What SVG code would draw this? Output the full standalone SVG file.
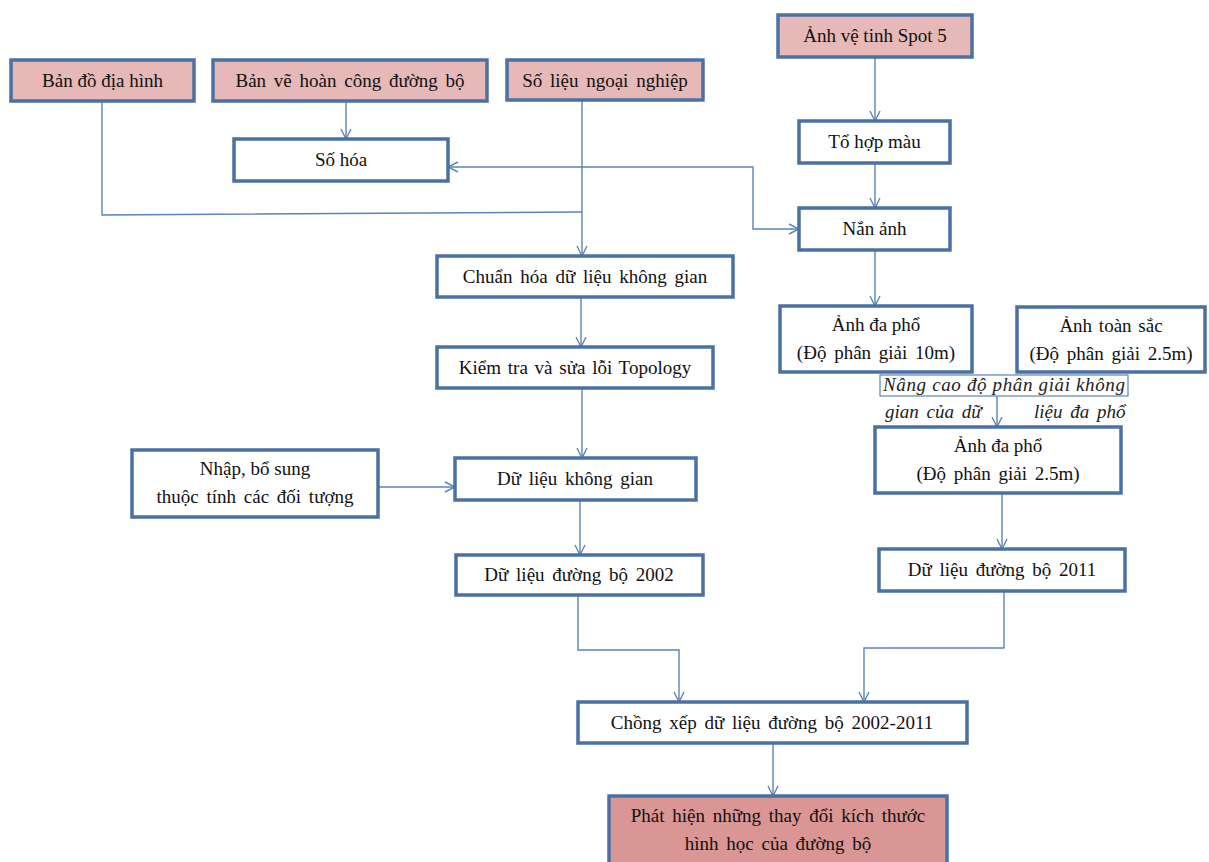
<svg xmlns="http://www.w3.org/2000/svg" width="1209" height="862" viewBox="0 0 1209 862">
<style>
.box{fill:#ffffff;stroke:#4a70a4;stroke-width:3.5}
.in{fill:#e6b9b8}
.out{fill:#d99694}
text{font-family:'Liberation Serif','Times New Roman','DejaVu Serif',serif}
.t{font-size:19px;fill:#111;text-anchor:middle}
.it{font-size:19px;font-style:italic;fill:#222}
.c{fill:none;stroke:#5a84ba;stroke-width:1.4}
</style>
<defs>
<marker id="ah" viewBox="0 0 12 12" refX="11" refY="6" markerWidth="12" markerHeight="12" markerUnits="userSpaceOnUse" orient="auto-start-reverse">
<path d="M1,1 L11,6 L1,11" fill="none" stroke="#5a84ba" stroke-width="1.4"/>
</marker>
</defs>
<rect width="1209" height="862" fill="#ffffff"/>
<g id="connectors">
<path class="c" d="M346,101 V139" marker-end="url(#ah)"/>
<path class="c" d="M102,101 V215 L582,212"/>
<path class="c" d="M582,100 V256" marker-end="url(#ah)"/>
<path class="c" d="M448,167 H753 V229 H799" marker-start="url(#ah)" marker-end="url(#ah)"/>
<path class="c" d="M875,57 V121" marker-end="url(#ah)"/>
<path class="c" d="M875,163 V208" marker-end="url(#ah)"/>
<path class="c" d="M875,250 V306" marker-end="url(#ah)"/>
<path class="c" d="M581,297 V347" marker-end="url(#ah)"/>
<path class="c" d="M582,388 V458" marker-end="url(#ah)"/>
<path class="c" d="M378,487 H455" marker-end="url(#ah)"/>
<path class="c" d="M580,500 V555" marker-end="url(#ah)"/>
<path class="c" d="M997,396 V427" marker-end="url(#ah)"/>
<path class="c" d="M1002,493 V549" marker-end="url(#ah)"/>
<path class="c" d="M578,595 V650 H679 V702" marker-end="url(#ah)"/>
<path class="c" d="M1004,591 V648 H864 V702" marker-end="url(#ah)"/>
<path class="c" d="M773,743 V796" marker-end="url(#ah)"/>
</g>
<g id="n-bando">
<rect class="box in" x="11" y="60" width="183" height="41"/>
<text class="t" x="102.5" y="87">Bản đồ địa hình</text>
</g>
<g id="n-banve">
<rect class="box in" x="213" y="60" width="274" height="41"/>
<text class="t" x="350" y="87" word-spacing="3">Bản vẽ hoàn công đường bộ</text>
</g>
<g id="n-solieu">
<rect class="box in" x="507" y="60" width="196" height="40"/>
<text class="t" x="605" y="87" word-spacing="3">Số liệu ngoại nghiệp</text>
</g>
<g id="n-spot">
<rect class="box in" x="778" y="15" width="194" height="42"/>
<text class="t" x="875" y="42">Ảnh vệ tinh Spot 5</text>
</g>
<g id="n-sohoa">
<rect class="box" x="234" y="139" width="214" height="42"/>
<text class="t" x="341" y="166">Số hóa</text>
</g>
<g id="n-tohop">
<rect class="box" x="799" y="121" width="151" height="42"/>
<text class="t" x="874.5" y="148">Tổ hợp màu</text>
</g>
<g id="n-nananh">
<rect class="box" x="799" y="208" width="151" height="42"/>
<text class="t" x="874.5" y="235">Nắn ảnh</text>
</g>
<g id="n-chuanhoa">
<rect class="box" x="437" y="256" width="296" height="41"/>
<text class="t" x="585" y="283" word-spacing="3">Chuẩn hóa dữ liệu không gian</text>
</g>
<g id="n-kiemtra">
<rect class="box" x="437" y="347" width="276" height="41"/>
<text class="t" x="575" y="374" word-spacing="2">Kiểm tra và sửa lỗi Topology</text>
</g>
<g id="n-daphopho10">
<rect class="box" x="780" y="306" width="192" height="66"/>
<text class="t" x="876" y="331">Ảnh đa phổ</text>
<text class="t" x="876" y="359" word-spacing="3">(Độ phân giải 10m)</text>
</g>
<g id="n-toansac">
<rect class="box" x="1017" y="307" width="188" height="65"/>
<text class="t" x="1111" y="332" word-spacing="2">Ảnh toàn sắc</text>
<text class="t" x="1111" y="360" word-spacing="3">(Độ phân giải 2.5m)</text>
</g>
<g id="n-label">
<rect x="880" y="375" width="248" height="21" fill="#ffffff" stroke="#5a84ba" stroke-width="1.2"/>
<text class="it" x="883" y="391" textLength="242" lengthAdjust="spacing">Nâng cao độ phân giải không</text>
<text class="it" x="885" y="418" word-spacing="3">gian của dữ</text>
<text class="it" x="1034" y="418" word-spacing="3">liệu đa phổ</text>
</g>
<g id="n-daphopho25">
<rect class="box" x="875" y="427" width="246" height="66"/>
<text class="t" x="998" y="452">Ảnh đa phổ</text>
<text class="t" x="998" y="480" word-spacing="3">(Độ phân giải 2.5m)</text>
</g>
<g id="n-nhap">
<rect class="box" x="132" y="450" width="246" height="67"/>
<text class="t" x="255" y="475">Nhập, bổ sung</text>
<text class="t" x="255" y="503" word-spacing="3">thuộc tính các đối tượng</text>
</g>
<g id="n-dlkg">
<rect class="box" x="455" y="458" width="241" height="42"/>
<text class="t" x="575" y="485" word-spacing="3">Dữ liệu không gian</text>
</g>
<g id="n-dl2002">
<rect class="box" x="456" y="555" width="247" height="40"/>
<text class="t" x="579" y="581" word-spacing="3">Dữ liệu đường bộ 2002</text>
</g>
<g id="n-dl2011">
<rect class="box" x="879" y="549" width="246" height="42"/>
<text class="t" x="1002" y="576" word-spacing="3">Dữ liệu đường bộ 2011</text>
</g>
<g id="n-chongxep">
<rect class="box" x="578" y="702" width="389" height="41"/>
<text class="t" x="772" y="729" word-spacing="3">Chồng xếp dữ liệu đường bộ 2002-2011</text>
</g>
<g id="n-phathien">
<rect class="box out" x="609" y="796" width="338" height="72"/>
<text class="t" x="778" y="822" word-spacing="3">Phát hiện những thay đổi kích thước</text>
<text class="t" x="778" y="850" word-spacing="3">hình học của đường bộ</text>
</g>
</svg>
